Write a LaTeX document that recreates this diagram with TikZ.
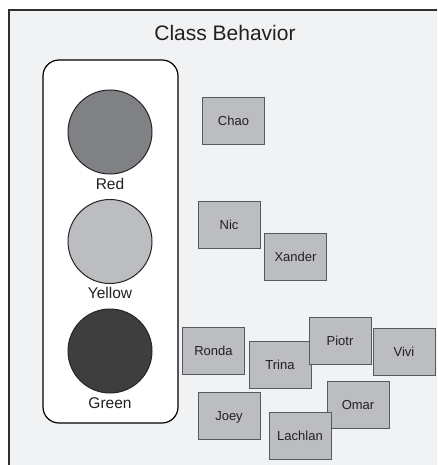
\documentclass[tikz,border=0pt]{standalone}
\usepackage{fontspec}
\setmainfont{Liberation Sans}
\definecolor{bgc}{HTML}{F1F2F4}
\definecolor{framec}{HTML}{2E2E2E}
\definecolor{redc}{HTML}{808184}
\definecolor{yelc}{HTML}{BCBDC0}
\definecolor{grnc}{HTML}{3E3E3E}
\definecolor{boxc}{HTML}{BCBDC0}
\definecolor{boxb}{HTML}{58595B}
\definecolor{txtc}{HTML}{231F20}
\begin{document}
\begin{tikzpicture}[x=1pt,y=-1pt,
  student/.style={draw=boxb, fill=boxc, line width=0.9pt, minimum width=62pt, minimum height=47pt,
    inner sep=0pt, text=txtc, font=\fontsize{13}{15}\selectfont, text height=9.5pt, text depth=0pt},
  light/.style={circle, draw=black!85, line width=1pt, minimum size=84pt, inner sep=0pt},
  lightlabel/.style={anchor=base, text=txtc, font=\fontsize{15.5}{17}\selectfont, inner sep=0pt}]
\useasboundingbox (0,0) rectangle (437,465);
\fill[bgc] (9,10) rectangle (437,465);
\draw[framec, line width=1.3pt] (9,465) -- (9,10) -- (437,10);
\node[anchor=base, text=txtc, font=\fontsize{21}{24}\selectfont, inner sep=0pt] (title) at (225,41) {Class Behavior};
\node[draw=black, fill=white, line width=1.2pt, rounded corners=16pt, minimum width=135pt, minimum height=363pt, inner sep=0pt] (panel) at (110.5,241.5) {};
\node[light, fill=redc] (red) at (110,132) {};
\node[light, fill=yelc] (yellow) at (110,241.5) {};
\node[light, fill=grnc] (green) at (110,351) {};
\node[lightlabel] (redl) at (110,189) {Red};
\node[lightlabel] (yellowl) at (110,298) {Yellow};
\node[lightlabel] (greenl) at (110,408) {Green};
\node[student] (chao) at (233.5,120.5) {Chao};
\node[student] (nic) at (229,225) {Nic};
\node[student] (xander) at (295.5,256.5) {Xander};
\node[student] (ronda) at (213.5,351) {Ronda};
\node[student] (trina) at (280,364.5) {Trina};
\node[student] (piotr) at (340,340.5) {Piotr};
\node[student] (vivi) at (404,351.5) {Vivi};
\node[student] (joey) at (229,415.5) {Joey};
\node[student] (omar) at (358,405) {Omar};
\node[student] (lachlan) at (300,435.5) {Lachlan};
\end{tikzpicture}
\end{document}
